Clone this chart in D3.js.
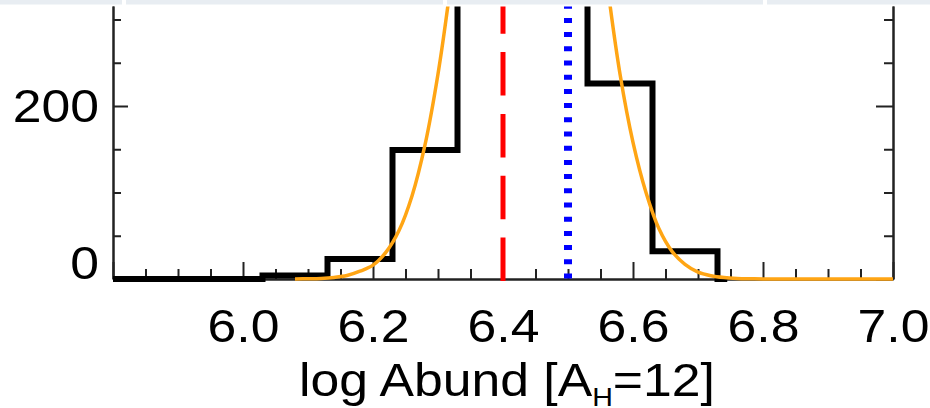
<!DOCTYPE html>
<html>
<head>
<meta charset="utf-8">
<script src="https://cdn.jsdelivr.net/npm/d3@7"></script>
<style>
  html, body { margin: 0; padding: 0; background: #fff; }
  svg { display: block; }
  text { font-family: "Liberation Sans", Arial, Helvetica, sans-serif; fill: #000; }
</style>
</head>
<body>
<div id="chart"></div>
<script>
// histogram: left bin edges and counts (two central bins run off the top of the crop),
// the outline stops a little past the last filled bin
const binEdges = [5.73, 5.83, 5.93, 6.03, 6.13, 6.23, 6.33, 6.43, 6.53, 6.63, 6.73];
const binCounts = [0, 0, 0, 4, 23, 149, 830, 860, 226, 32, 0];
const histEnd = 6.745;

// orange fit curve (peak is off the top)
const fitX = [6.08, 6.10, 6.12, 6.14, 6.16, 6.18, 6.20, 6.22, 6.24, 6.26, 6.28, 6.30, 6.32, 6.34,
  6.44, 6.54, 6.56, 6.58, 6.60, 6.62, 6.64, 6.66, 6.68, 6.70, 6.72, 6.74, 6.76, 6.78, 6.80, 6.85, 6.92, 7.0];
const fitY = [0.1, 0.3, 0.7, 1.8, 4, 9, 16, 31, 56, 96, 155, 237, 343, 469,
  954, 469, 343, 237, 158, 100, 58, 32, 17, 8, 3.8, 1.7, 0.7, 0.3, 0.1, 0, 0, 0];

const meanAbund = 6.40;   // red dashed
const refAbund = 6.50;    // blue dotted

const xMajorTicks = [5.8, 6.0, 6.2, 6.4, 6.6, 6.8, 7.0];
const xLabelTicks = [6.0, 6.2, 6.4, 6.6, 6.8, 7.0];
const xMinorTicks = [5.85, 5.9, 5.95, 6.05, 6.1, 6.15, 6.25, 6.3, 6.35, 6.45, 6.5, 6.55, 6.65, 6.7, 6.75, 6.85, 6.9, 6.95];
const yMajorTicks = [0, 200];
const yMinorTicks = [50, 100, 150, 250, 300];
const xDomain = [5.8, 7.0];
const yDomain = [0, 322.5];

const config = {
  totalWidth: 930,
  totalHeight: 408,
  fontSize: 47,
  stretch: 'scale(1.1,1)',
  margin: {top: 0, right: 37, bottom: 129, left: 113}
};
config.width = config.totalWidth - config.margin.left - config.margin.right;
config.height = config.totalHeight - config.margin.top - config.margin.bottom;

const x = d3.scaleLinear().domain(xDomain).range([0, config.width]);
const y = d3.scaleLinear().domain(yDomain).range([config.height, 0]);

const svg = d3.select('#chart').append('svg')
  .attr('width', config.totalWidth)
  .attr('height', config.totalHeight);

const defs = svg.append('defs');
defs.append('clipPath').attr('id', 'plotClip')
  .append('rect').attr('x', 0).attr('y', 6.5).attr('width', config.width).attr('height', config.height + 20);
defs.append('clipPath').attr('id', 'axisClip')
  .append('rect').attr('x', -200).attr('y', 6.5).attr('width', config.totalWidth + 200).attr('height', config.totalHeight);

const g = svg.append('g')
  .attr('transform', `translate(${config.margin.left},${config.margin.top})`);

function styleAxis(sel) {
  sel.selectAll('path, line').attr('stroke', '#222').attr('stroke-width', 2);
}

function drawScale(chart) {
  const axes = chart.append('g').attr('clip-path', 'url(#axisClip)');

  // bottom axis: minor and major ticks point inward
  axes.append('g').attr('transform', `translate(0,${config.height})`)
    .call(d3.axisBottom(x).tickValues(xMinorTicks).tickSize(-10).tickSizeOuter(0).tickFormat(''))
    .call(styleAxis);
  const bottom = axes.append('g').attr('transform', `translate(0,${config.height})`)
    .call(d3.axisBottom(x).tickValues(xMajorTicks).tickSize(-17).tickSizeOuter(0)
      .tickFormat(d => xLabelTicks.includes(d) ? d3.format('.1f')(d) : ''))
    .call(styleAxis);
  bottom.selectAll('text')
    .attr('y', null).attr('dy', null)
    .attr('transform', `translate(0,63) ${config.stretch}`)
    .attr('font-size', config.fontSize)
    .attr('fill', '#000');

  // left axis
  axes.append('g')
    .call(d3.axisLeft(y).tickValues(yMinorTicks).tickSize(-8).tickSizeOuter(0).tickFormat(''))
    .call(styleAxis);
  const left = axes.append('g')
    .call(d3.axisLeft(y).tickValues(yMajorTicks).tickSize(-15).tickSizeOuter(0).tickFormat(d3.format('d')))
    .call(styleAxis);
  left.selectAll('text')
    .attr('x', null).attr('dy', null)
    .attr('text-anchor', 'end')
    .attr('transform', d => `translate(-14,${d === 0 ? -1 : 16}) ${config.stretch}`)
    .attr('font-size', config.fontSize)
    .attr('fill', '#000');

  // right axis, ticks pointing left
  axes.append('g').attr('transform', `translate(${config.width},0)`)
    .call(d3.axisRight(y).tickValues(yMinorTicks).tickSize(-9).tickSizeOuter(0).tickFormat(''))
    .call(styleAxis);
  axes.append('g').attr('transform', `translate(${config.width},0)`)
    .call(d3.axisRight(y).tickValues(yMajorTicks).tickSize(-17).tickSizeOuter(0).tickFormat(''))
    .call(styleAxis);
}

function drawHistogram(layer) {
  const points = binEdges.map((e, i) => [e, binCounts[i]]);
  points.push([histEnd, binCounts[binCounts.length - 1]]);
  const step = d3.line()
    .x(d => x(d[0]))
    .y(d => y(d[1]))
    .curve(d3.curveStepAfter);
  layer.append('path')
    .datum(points)
    .attr('d', step)
    .attr('fill', 'none')
    .attr('stroke', '#000')
    .attr('stroke-width', 6)
    .attr('stroke-linejoin', 'miter');
}

function drawMarkers(layer) {
  layer.append('line')
    .attr('x1', x(meanAbund)).attr('x2', x(meanAbund))
    .attr('y1', y(0) + 2).attr('y2', y(yDomain[1]) - 20)
    .attr('stroke', '#ff0000')
    .attr('stroke-width', 5)
    .attr('stroke-dasharray', '43.5,18.3');
  layer.append('line')
    .attr('x1', x(refAbund)).attr('x2', x(refAbund))
    .attr('y1', y(0) - 0.5).attr('y2', y(yDomain[1]) - 20)
    .attr('stroke', '#0000ff')
    .attr('stroke-width', 8)
    .attr('stroke-dasharray', '5,9.2');
}

function drawFit(layer) {
  const line = d3.line()
    .x((d, i) => x(fitX[i]))
    .y(d => y(d))
    .curve(d3.curveCatmullRom.alpha(0.5));
  layer.append('path')
    .datum(fitY)
    .attr('d', line)
    .attr('fill', 'none')
    .attr('stroke', '#ffa514')
    .attr('stroke-width', 3.5);
}

function drawTitle(chart) {
  const t = chart.append('text')
    .attr('text-anchor', 'middle')
    .attr('transform', `translate(${config.width / 2 + 4},396) ${config.stretch}`)
    .attr('font-size', config.fontSize);
  t.append('tspan').text('log Abund [A');
  t.append('tspan').attr('font-size', 26).attr('dy', 10).text('H');
  t.append('tspan').attr('dy', -10).text('=12]');
}

function drawPageBand() {
  const segments = [[0, 122], [126, 443], [447, 763], [767, 930]];
  svg.append('g').selectAll('rect')
    .data(segments)
    .enter()
    .append('rect')
    .attr('x', d => d[0])
    .attr('width', d => d[1] - d[0])
    .attr('y', 0)
    .attr('height', 4.5)
    .attr('fill', '#e8edf2');
}

drawScale(g);
const plotLayer = g.append('g').attr('clip-path', 'url(#plotClip)');
drawHistogram(plotLayer);
drawMarkers(plotLayer);
drawFit(plotLayer);
drawTitle(g);
drawPageBand();
</script>
</body>
</html>
